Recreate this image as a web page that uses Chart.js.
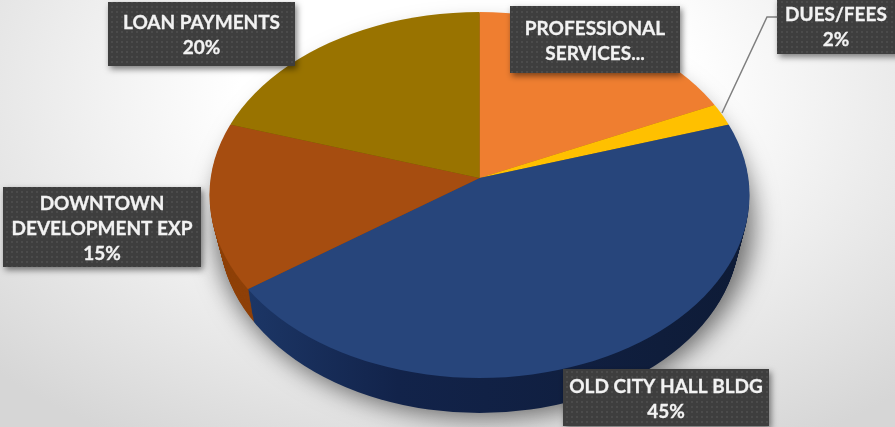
<!DOCTYPE html>
<html lang="en">
<head>
  <meta charset="UTF-8">
  <title>Expense Breakdown</title>
  <script src="https://cdn.jsdelivr.net/npm/chart.js"></script>
  <style>
    html, body { margin: 0; padding: 0; width: 895px; height: 427px; overflow: hidden; }
    body { background: radial-gradient(ellipse 72% 95% at 52% 22%, #ffffff 35%, #d6d6d6 100%); }
    canvas { display: block; }
  </style>
</head>
<body>
  <canvas id="pie" width="895" height="427"></canvas>

  <script>
    const categories = ['PROFESSIONAL SERVICES...', 'DUES/FEES', 'OLD CITY HALL BLDG', 'DOWNTOWN DEVELOPMENT EXP', 'LOAN PAYMENTS'];
    const shares = [18, 2, 45, 15, 20];
    const colors = ['#ef7e30', '#ffc000', '#27457b', '#a64d10', '#997300'];
    const wallColors = ['#a85a20', '#b58800', '#14264a', '#8f4109', '#6b5100'];

    // label boxes: text lines plus x, y, w, h of the box
    const labelBoxes = [
      { lines: ['LOAN PAYMENTS', '20%'], x: 108, y: 2, w: 187, h: 64 },
      { lines: ['PROFESSIONAL', 'SERVICES...'], x: 510, y: 6, w: 170, h: 67 },
      { lines: ['DUES/FEES', '2%'], x: 777, y: -2, w: 130, h: 56, cx: 836 },
      { lines: ['DOWNTOWN', 'DEVELOPMENT EXP', '15%'], x: 3, y: 187, w: 198, h: 80 },
      { lines: ['OLD CITY HALL BLDG', '45%'], x: 563, y: 369, w: 206, h: 57 }
    ];
    const leaderLine = [[722, 113], [767, 17], [777, 17]];

    // top face of the pie: the apex sits above the middle of the ellipse
    const face = { cx: 479.5, cy: 195, rx: 270, ry: 183 };
    const tilt = 0.66;
    const depth = 35;

    // d is how far down the side wall we are; the far rim is a little narrower
    function ellipsePath(ctx, d) {
      const t = d / depth;
      ctx.beginPath();
      ctx.ellipse(face.cx, face.cy + 37 * t, face.rx - 10 * t, face.ry - 2 * t, 0, 0, Math.PI * 2);
    }

    function applyTilt(ctx, x, y) {
      ctx.translate(x, y);
      ctx.scale(1, tilt);
      ctx.translate(-x, -y);
    }

    function dotPattern(ctx) {
      const tile = document.createElement('canvas');
      tile.width = 5;
      tile.height = 5;
      const t = tile.getContext('2d');
      t.fillStyle = '#3e3e3e';
      t.fillRect(0, 0, 5, 5);
      t.fillStyle = '#4b4b4b';
      t.fillRect(1, 1, 2, 2);
      return ctx.createPattern(tile, 'repeat');
    }

    const tiltedPie = {
      id: 'tiltedPie',
      beforeDatasetsDraw(chart) {
        const ctx = chart.ctx;
        const arcs = chart.getDatasetMeta(0).data;

        // soft shadow under the pie, cast from a shape kept off the canvas
        ctx.save();
        ctx.shadowColor = 'rgba(0,0,0,0.55)';
        ctx.shadowBlur = 24;
        ctx.shadowOffsetX = 2004;
        ctx.shadowOffsetY = 6;
        ctx.fillStyle = '#000';
        ctx.beginPath();
        ctx.ellipse(face.cx - 2000, face.cy + 22, face.rx, face.ry + 12, 0, 0, Math.PI * 2);
        ctx.fill();
        ctx.restore();

        // side wall: offset copies of the slices, deepest first
        const blueWall = ctx.createLinearGradient(248, 0, 749, 0);
        blueWall.addColorStop(0, '#1c3666');
        blueWall.addColorStop(0.3, '#12234a');
        blueWall.addColorStop(1, '#0e1b36');
        for (let d = depth; d > 0; d--) {
          arcs.forEach((arc, i) => {
            ctx.save();
            ellipsePath(ctx, d);
            ctx.clip();
            ctx.translate(0, d);
            applyTilt(ctx, arc.x, arc.y);
            ctx.beginPath();
            ctx.moveTo(arc.x, arc.y);
            ctx.arc(arc.x, arc.y, arc.outerRadius, arc.startAngle, arc.endAngle);
            ctx.closePath();
            ctx.fillStyle = i === 2 ? blueWall : wallColors[i];
            ctx.fill();
            ctx.restore();
          });
        }

        // top face: library arcs squashed and trimmed to the ellipse
        ctx.save();
        ellipsePath(ctx, 0);
        ctx.clip();
        applyTilt(ctx, arcs[0].x, arcs[0].y);
      },
      afterDatasetsDraw(chart) {
        const ctx = chart.ctx;
        ctx.restore();

        ctx.save();
        ctx.strokeStyle = '#7f7f7f';
        ctx.lineWidth = 1.5;
        ctx.beginPath();
        leaderLine.forEach(([x, y], i) => (i ? ctx.lineTo(x, y) : ctx.moveTo(x, y)));
        ctx.stroke();
        ctx.restore();

        const pattern = dotPattern(ctx);
        labelBoxes.forEach((box) => {
          ctx.save();
          ctx.shadowColor = 'rgba(0,0,0,0.5)';
          ctx.shadowBlur = 6;
          ctx.shadowOffsetX = 2;
          ctx.shadowOffsetY = 3;
          ctx.fillStyle = pattern;
          ctx.fillRect(box.x, box.y, box.w, box.h);
          ctx.restore();

          ctx.save();
          ctx.fillStyle = '#f2f2f2';
          ctx.strokeStyle = '#f2f2f2';
          ctx.lineWidth = 0.3;
          ctx.font = 'bold 19px Lato';
          ctx.textAlign = 'center';
          ctx.textBaseline = 'middle';
          const lineH = 25;
          const top = box.y + box.h / 2 - (box.lines.length - 1) * lineH / 2 + 1.5;
          const mid = box.cx || box.x + box.w / 2;
          box.lines.forEach((line, i) => {
            ctx.fillText(line, mid, top + i * lineH);
            ctx.strokeText(line, mid, top + i * lineH);
          });
          ctx.restore();
        });
      }
    };

    new Chart(document.getElementById('pie'), {
      type: 'pie',
      data: {
        labels: categories,
        datasets: [{ data: shares, backgroundColor: colors, borderWidth: 0, hoverOffset: 0 }]
      },
      options: {
        responsive: false,
        animation: false,
        radius: 345,
        layout: { padding: { left: 64, bottom: 71 } },
        plugins: {
          legend: { display: false },
          tooltip: { enabled: false }
        }
      },
      plugins: [tiltedPie]
    });
  </script>
</body>
</html>
